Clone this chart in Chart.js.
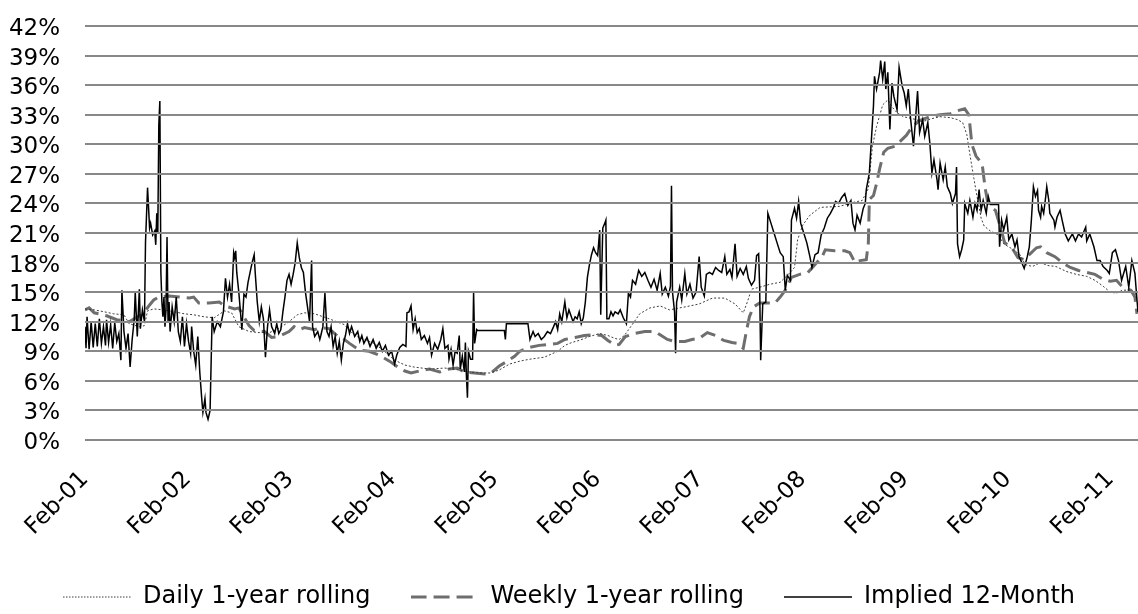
<!DOCTYPE html>
<html>
<head>
<meta charset="utf-8">
<script src="https://cdn.jsdelivr.net/npm/chart.js@4.4.1/dist/chart.umd.min.js"></script>
<style>
  html, body { margin: 0; padding: 0; background: #fff; overflow: hidden; }
  #wrap { width: 1138px; height: 614px; position: relative; }
</style>
</head>
<body>
<div id="wrap"><canvas id="volChart"></canvas></div>
<script>
// x = years since Feb-01, y = volatility in %
const yearLabels = ['Feb-01', 'Feb-02', 'Feb-03', 'Feb-04', 'Feb-05', 'Feb-06', 'Feb-07', 'Feb-08', 'Feb-09', 'Feb-10', 'Feb-11'];

const dailyRolling = [[0,13.3],[0.09,13.2],[0.19,13.0],[0.28,12.8],[0.38,12.7],[0.43,11.8],[0.53,11.5],[0.58,11.6],[0.61,13.1],[0.67,13.3],[0.77,13.2],[0.87,13.0],[0.97,12.8],[1.06,12.7],[1.16,12.5],[1.26,12.4],[1.36,13.1],[1.43,12.9],[1.50,11.5],[1.60,11.0],[1.70,10.9],[1.80,10.9],[1.89,11.3],[1.99,12.0],[2.07,12.7],[2.14,12.9],[2.24,12.8],[2.38,12.3],[2.53,11.7],[2.63,10.6],[2.72,10.2],[2.82,9.8],[2.92,9.0],[3.02,8.1],[3.12,7.6],[3.21,7.4],[3.36,7.2],[3.51,7.3],[3.65,7.1],[3.75,6.9],[3.85,6.8],[3.95,6.8],[4.04,7.1],[4.14,7.7],[4.24,8.0],[4.34,8.2],[4.48,8.4],[4.61,9.0],[4.68,9.6],[4.75,9.9],[4.82,10.1],[4.92,10.5],[5.02,10.8],[5.10,10.6],[5.17,10.3],[5.21,10.2],[5.26,10.6],[5.33,11.6],[5.41,12.8],[5.51,13.4],[5.61,13.6],[5.70,13.2],[5.80,13.4],[5.90,13.6],[5.99,13.8],[6.12,14.4],[6.24,14.4],[6.34,13.8],[6.42,12.9],[6.46,14.0],[6.50,15.3],[6.58,15.5],[6.68,15.8],[6.78,16.0],[6.86,16.8],[6.92,17.5],[6.95,20.3],[7.00,21.8],[7.07,22.8],[7.17,23.6],[7.36,23.7],[7.49,24.1],[7.58,24.3],[7.64,25.5],[7.68,29.8],[7.72,31.8],[7.78,34.0],[7.83,34.5],[7.87,33.8],[7.92,33.2],[7.98,32.8],[8.07,32.6],[8.17,32.3],[8.26,32.6],[8.34,32.8],[8.44,32.7],[8.51,32.5],[8.56,32.2],[8.60,31.0],[8.63,29.0],[8.67,26.5],[8.70,24.7],[8.74,22.5],[8.77,21.7],[8.83,21.2],[8.91,20.8],[8.96,19.9],[9.04,19.4],[9.12,18.8],[9.17,17.8],[9.24,17.6],[9.32,18.0],[9.39,17.7],[9.47,17.6],[9.57,17.1],[9.67,16.8],[9.77,16.6],[9.85,16.2],[9.93,15.6],[10.00,15.0],[10.06,14.9],[10.12,15.2],[10.20,15.2],[10.24,15.0],[10.26,14.2]];

const weeklyRolling = [[0,13.2],[0.04,13.4],[0.09,12.9],[0.14,12.8],[0.21,12.6],[0.31,12.2],[0.43,12.0],[0.53,12.6],[0.58,13.0],[0.63,13.7],[0.67,14.2],[0.72,14.5],[0.82,14.6],[0.92,14.5],[1.02,14.4],[1.06,14.5],[1.11,13.9],[1.21,13.9],[1.31,14.0],[1.36,13.6],[1.46,13.3],[1.50,13.4],[1.55,12.5],[1.60,11.6],[1.65,11.1],[1.75,11.0],[1.82,10.4],[1.89,10.5],[1.99,11.0],[2.04,11.5],[2.09,11.2],[2.14,11.4],[2.24,11.2],[2.30,11.4],[2.38,11.3],[2.48,10.4],[2.53,10.2],[2.58,9.8],[2.68,9.1],[2.77,9.0],[2.87,8.6],[2.97,8.0],[3.05,7.4],[3.12,7.0],[3.18,6.8],[3.26,7.0],[3.36,7.2],[3.46,6.9],[3.55,7.2],[3.63,7.3],[3.70,6.9],[3.80,6.8],[3.90,6.7],[3.96,6.8],[4.04,7.5],[4.12,8.0],[4.19,8.5],[4.24,9.0],[4.34,9.4],[4.43,9.6],[4.53,9.7],[4.61,9.8],[4.68,10.2],[4.78,10.4],[4.87,10.6],[4.97,10.7],[5.04,10.6],[5.10,10.1],[5.17,9.6],[5.21,9.7],[5.27,10.5],[5.36,10.8],[5.46,11.0],[5.56,11.0],[5.62,10.6],[5.68,10.2],[5.75,10.0],[5.85,10.0],[5.92,10.2],[5.99,10.3],[6.07,10.9],[6.15,10.6],[6.23,10.1],[6.31,9.9],[6.37,9.8],[6.42,9.3],[6.45,11.0],[6.48,12.5],[6.52,13.5],[6.58,13.9],[6.68,13.9],[6.73,13.9],[6.78,14.5],[6.83,15.2],[6.89,16.5],[6.97,16.8],[7.05,17.0],[7.12,17.8],[7.19,18.6],[7.22,19.3],[7.31,19.2],[7.41,19.2],[7.46,19.0],[7.51,18.0],[7.56,18.2],[7.62,18.3],[7.64,20.0],[7.65,24.4],[7.69,24.8],[7.72,26.0],[7.75,27.5],[7.79,29.2],[7.83,29.6],[7.90,29.8],[7.95,30.3],[8.01,30.9],[8.07,31.8],[8.14,32.4],[8.24,32.8],[8.34,33.0],[8.44,33.1],[8.51,33.4],[8.58,33.6],[8.62,33.0],[8.65,30.0],[8.69,28.8],[8.75,28.0],[8.78,25.5],[8.81,23.8],[8.88,23.3],[8.93,21.5],[8.97,20.0],[9.04,19.5],[9.10,18.5],[9.16,18.3],[9.22,18.9],[9.28,19.5],[9.32,19.6],[9.38,19.0],[9.46,18.6],[9.53,18.0],[9.61,17.5],[9.69,17.2],[9.77,17.0],[9.85,16.8],[9.93,16.3],[10.00,16.1],[10.06,16.2],[10.12,15.5],[10.20,15.2],[10.24,14.5],[10.26,12.8]];

const implied12m = [[0,11.5],[0.01,9.3],[0.02,12.5],[0.04,9.2],[0.06,12.0],[0.08,9.4],[0.10,11.8],[0.12,9.5],[0.14,12.3],[0.16,9.8],[0.18,11.5],[0.20,9.6],[0.21,12.2],[0.23,9.9],[0.25,11.7],[0.27,9.3],[0.29,11.9],[0.31,10.0],[0.33,10.8],[0.35,8.1],[0.36,15.2],[0.38,11.0],[0.40,9.3],[0.42,10.8],[0.44,7.4],[0.46,10.2],[0.48,12.2],[0.49,15.0],[0.51,10.5],[0.53,15.3],[0.54,11.3],[0.56,13.2],[0.58,12.0],[0.59,20.0],[0.61,25.6],[0.63,21.5],[0.64,22.0],[0.66,20.8],[0.68,21.2],[0.69,19.8],[0.70,23.0],[0.71,21.0],[0.72,32.0],[0.73,34.4],[0.74,17.0],[0.75,14.0],[0.76,12.5],[0.77,14.5],[0.78,11.5],[0.79,13.2],[0.80,20.6],[0.81,12.0],[0.82,14.0],[0.83,11.0],[0.85,13.5],[0.87,12.0],[0.89,14.5],[0.91,11.0],[0.93,10.0],[0.95,12.5],[0.97,9.5],[0.99,11.8],[1.01,10.0],[1.03,8.8],[1.04,11.5],[1.06,9.0],[1.08,7.6],[1.10,10.5],[1.12,6.8],[1.14,4.0],[1.15,2.8],[1.17,4.2],[1.18,2.8],[1.20,2.1],[1.22,3.0],[1.24,12.5],[1.26,11.0],[1.29,12.0],[1.32,11.5],[1.35,13.0],[1.37,16.4],[1.39,14.5],[1.41,15.8],[1.43,14.0],[1.45,19.0],[1.46,18.5],[1.47,19.2],[1.48,17.0],[1.50,15.0],[1.52,12.5],[1.53,11.2],[1.55,14.8],[1.57,14.5],[1.59,16.0],[1.61,17.0],[1.63,18.0],[1.65,18.8],[1.66,17.0],[1.68,14.0],[1.70,12.0],[1.72,13.5],[1.74,12.3],[1.76,8.4],[1.78,11.5],[1.80,13.2],[1.82,11.5],[1.85,10.8],[1.87,11.8],[1.89,10.8],[1.91,11.2],[1.93,13.0],[1.95,14.5],[1.97,16.2],[1.99,16.8],[2.01,15.8],[2.03,16.8],[2.05,18.0],[2.07,20.0],[2.09,18.5],[2.11,17.5],[2.13,17.0],[2.15,15.0],[2.17,13.5],[2.19,12.0],[2.21,18.2],[2.22,11.5],[2.24,10.5],[2.27,11.0],[2.29,10.2],[2.30,10.6],[2.32,11.5],[2.34,14.9],[2.36,11.0],[2.38,10.5],[2.40,11.5],[2.42,9.5],[2.44,10.5],[2.46,8.8],[2.48,10.0],[2.50,8.1],[2.52,9.8],[2.54,10.6],[2.56,11.8],[2.58,10.8],[2.60,11.5],[2.63,10.5],[2.66,11.0],[2.68,10.0],[2.70,10.6],[2.72,9.8],[2.75,10.4],[2.78,9.5],[2.81,10.2],[2.84,9.3],[2.87,9.9],[2.90,9.0],[2.93,9.6],[2.96,8.6],[2.99,9.0],[3.02,7.7],[3.04,8.6],[3.07,9.4],[3.10,9.7],[3.13,9.5],[3.14,12.9],[3.16,13.0],[3.18,13.6],[3.20,11.2],[3.22,12.3],[3.24,10.9],[3.26,11.3],[3.28,10.2],[3.31,10.6],[3.34,9.8],[3.36,10.4],[3.38,8.6],[3.41,9.8],[3.44,9.2],[3.47,10.2],[3.49,11.3],[3.51,9.3],[3.54,9.6],[3.55,8.2],[3.57,9.2],[3.59,7.6],[3.61,9.0],[3.63,8.8],[3.65,10.6],[3.66,7.2],[3.68,8.5],[3.70,6.9],[3.71,9.9],[3.72,6.5],[3.73,4.3],[3.74,9.0],[3.76,8.2],[3.78,8.2],[3.79,15.0],[3.80,9.8],[3.82,11.2],[3.83,11.1],[4.09,11.1],[4.10,10.2],[4.11,11.8],[4.32,11.8],[4.34,10.2],[4.37,11.0],[4.39,10.5],[4.42,10.8],[4.45,10.2],[4.48,10.5],[4.51,11.0],[4.54,10.8],[4.57,11.5],[4.59,12.0],[4.61,11.2],[4.63,12.8],[4.65,12.0],[4.68,14.0],[4.70,12.4],[4.72,13.2],[4.74,12.6],[4.76,12.0],[4.78,12.5],[4.80,12.3],[4.82,13.0],[4.84,11.8],[4.86,12.4],[4.88,14.0],[4.90,16.5],[4.92,17.8],[4.94,18.8],[4.96,19.5],[4.98,19.0],[5.00,18.7],[5.02,21.3],[5.03,12.7],[5.05,21.5],[5.07,22.0],[5.08,22.3],[5.09,12.3],[5.11,12.3],[5.13,13.0],[5.15,12.6],[5.17,13.0],[5.20,12.8],[5.22,13.2],[5.25,12.4],[5.28,11.8],[5.30,14.9],[5.32,14.5],[5.34,16.2],[5.37,15.8],[5.40,17.2],[5.43,16.6],[5.46,17.0],[5.49,16.2],[5.52,15.5],[5.55,16.3],[5.58,15.2],[5.61,16.9],[5.63,14.8],[5.66,15.5],[5.69,14.6],[5.71,15.6],[5.72,25.8],[5.73,15.0],[5.75,13.0],[5.76,8.8],[5.77,14.0],[5.80,15.5],[5.82,14.2],[5.85,16.9],[5.87,14.8],[5.90,15.8],[5.93,14.4],[5.96,15.0],[5.99,18.6],[6.01,15.5],[6.04,14.6],[6.06,16.8],[6.09,17.0],[6.12,16.8],[6.15,17.5],[6.18,17.2],[6.21,17.0],[6.24,18.6],[6.26,16.8],[6.29,17.3],[6.31,16.5],[6.34,19.9],[6.36,16.6],[6.39,17.4],[6.42,16.8],[6.45,17.6],[6.47,16.4],[6.50,15.7],[6.53,16.2],[6.55,18.7],[6.57,18.9],[6.58,15.5],[6.59,8.1],[6.61,13.8],[6.64,14.0],[6.66,23.0],[6.69,22.0],[6.72,21.0],[6.75,20.0],[6.78,19.0],[6.81,18.6],[6.83,15.2],[6.85,16.7],[6.88,16.2],[6.89,22.3],[6.92,23.5],[6.94,22.5],[6.96,24.2],[6.98,22.0],[7.01,21.0],[7.04,20.0],[7.07,18.6],[7.09,17.5],[7.12,18.8],[7.15,19.0],[7.18,20.8],[7.21,21.5],[7.24,22.5],[7.27,23.0],[7.30,23.6],[7.32,24.2],[7.35,24.0],[7.38,24.6],[7.41,25.0],[7.44,23.8],[7.47,24.3],[7.49,22.0],[7.51,21.3],[7.53,22.8],[7.56,22.0],[7.59,23.5],[7.61,24.0],[7.62,25.4],[7.65,27.1],[7.67,30.5],[7.69,33.9],[7.70,36.9],[7.72,35.6],[7.75,37.3],[7.76,38.5],[7.78,36.6],[7.80,38.4],[7.81,35.6],[7.83,37.3],[7.85,31.5],[7.87,36.2],[7.89,34.8],[7.92,33.5],[7.94,37.8],[7.97,35.9],[7.99,35.2],[8.01,33.9],[8.03,35.6],[8.05,32.8],[8.08,29.8],[8.10,32.5],[8.12,35.4],[8.14,31.2],[8.17,32.5],[8.19,30.8],[8.22,32.2],[8.24,30.1],[8.26,27.1],[8.28,28.4],[8.31,26.4],[8.32,25.4],[8.34,28.1],[8.37,26.4],[8.39,27.7],[8.41,25.7],[8.44,25.0],[8.46,24.0],[8.49,25.0],[8.50,27.7],[8.51,19.9],[8.53,18.6],[8.55,19.3],[8.57,20.3],[8.58,24.0],[8.61,23.0],[8.63,24.3],[8.66,22.6],[8.68,24.0],[8.70,23.3],[8.72,25.4],[8.74,23.3],[8.76,24.3],[8.79,23.0],[8.81,24.7],[8.83,23.9],[8.91,23.9],[8.92,19.6],[8.94,22.3],[8.96,21.3],[8.99,22.6],[9.01,20.3],[9.04,20.9],[9.07,19.6],[9.09,20.3],[9.11,18.6],[9.14,17.9],[9.16,17.4],[9.19,18.6],[9.21,19.6],[9.23,22.3],[9.25,25.7],[9.27,24.7],[9.29,25.3],[9.30,23.3],[9.32,22.6],[9.33,23.7],[9.35,23.0],[9.37,24.7],[9.38,25.7],[9.40,24.3],[9.41,23.0],[9.45,22.3],[9.46,21.6],[9.48,22.6],[9.51,23.3],[9.53,22.3],[9.56,20.9],[9.59,20.2],[9.63,20.9],[9.66,20.2],[9.69,20.9],[9.72,20.6],[9.76,21.6],[9.77,20.2],[9.80,20.9],[9.84,19.6],[9.87,18.2],[9.90,18.2],[9.93,17.6],[9.97,17.2],[9.99,16.9],[10.02,19.0],[10.05,19.3],[10.08,18.2],[10.11,16.2],[10.15,17.6],[10.18,15.5],[10.21,18.2],[10.24,16.9],[10.26,14.2],[10.27,13.0]];

const toXY = (pts) => pts.map(([x, y]) => ({ x: x, y: y }));
const tickFont = { family: 'DejaVu Sans', size: 23 };
const legendFont = { family: 'DejaVu Sans', size: 24 };

// small line samples for the legend (dotted / dashed / solid)
function legendSwatch(color, width, dash) {
    const c = document.createElement('canvas');
    c.width = 68;
    c.height = 8;
    const g = c.getContext('2d');
    g.strokeStyle = color;
    g.lineWidth = width;
    g.setLineDash(dash);
    g.beginPath();
    g.moveTo(0, 4);
    g.lineTo(68, 4);
    g.stroke();
    return c;
}

new Chart(document.getElementById('volChart'), {
    type: 'line',
    data: {
        datasets: [{
            label: 'Daily 1-year rolling',
            data: toXY(dailyRolling),
            borderColor: '#3c3c3c',
            borderWidth: 1,
            borderDash: [2, 2],
            pointRadius: 0,
            pointStyle: legendSwatch('#3c3c3c', 1, [1.5, 1.5]),
            fill: false,
            order: 1
        }, {
            label: 'Weekly 1-year rolling',
            data: toXY(weeklyRolling),
            borderColor: '#6e6e6e',
            borderWidth: 3,
            borderDash: [16, 7],
            pointRadius: 0,
            pointStyle: legendSwatch('#6e6e6e', 3, [16, 7]),
            fill: false,
            order: 2
        }, {
            label: 'Implied 12-Month',
            data: toXY(implied12m),
            borderColor: '#000000',
            borderWidth: 1.5,
            pointRadius: 0,
            pointStyle: legendSwatch('#000000', 1.5, []),
            fill: false,
            order: 0
        }]
    },
    options: {
        responsive: true,
        maintainAspectRatio: false,
        animation: false,
        layout: { padding: { top: 26, right: 0, bottom: -5, left: 0 } },
        plugins: {
            tooltip: { enabled: false },
            legend: {
                position: 'bottom',
                labels: {
                    usePointStyle: true,
                    pointStyleWidth: 68,
                    padding: 40,
                    color: '#000',
                    font: legendFont,
                    sort: (a, b) => a.datasetIndex - b.datasetIndex
                }
            }
        },
        scales: {
            x: {
                type: 'linear',
                min: 0,
                max: 10.27,
                grid: { display: false, drawTicks: false },
                border: { display: false },
                ticks: {
                    stepSize: 1,
                    includeBounds: false,
                    autoSkip: false,
                    maxRotation: 45,
                    minRotation: 45,
                    padding: 26,
                    color: '#000',
                    font: tickFont,
                    callback: (v) => Number.isInteger(v) ? yearLabels[v] : ''
                },
                afterFit: (s) => { s.height = 105; s.paddingRight = 0; }
            },
            y: {
                min: 0,
                max: 42,
                // drawn after the series so nothing paints over the gridlines
                grid: { color: '#888888', lineWidth: 2, drawTicks: false, z: 1 },
                border: { display: false },
                ticks: {
                    stepSize: 3,
                    autoSkip: false,
                    padding: 25,
                    labelOffset: 3,
                    color: '#000',
                    font: tickFont,
                    callback: (v) => v + '%'
                },
                afterFit: (s) => { s.width = 85; s.paddingTop = 0; s.paddingBottom = 0; }
            }
        }
    }
});
</script>
</body>
</html>
